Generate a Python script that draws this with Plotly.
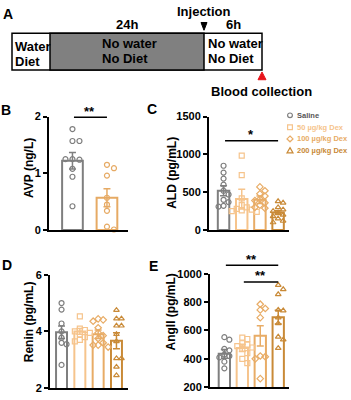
import plotly.graph_objects as go

W, H = 351, 400
FONT = "Liberation Sans, Arial, sans-serif"

# ---------------- data ----------------
groups4 = ["Saline", "50 µg/kg Dex", "100 µg/kg Dex", "200 µg/kg Dex"]
groupsB = ["Saline", "Dex"]

avp_mean = [1.22, 0.57]
avp_sem = [0.145, 0.16]
avp_points = [
    [1.78, 1.57, 1.57, 1.25, 1.24, 1.25, 1.08, 0.94, 0.42],
    [1.15, 1.09, 0.96, 0.57, 0.45, 0.34, 0.06, 0.01],
]

ald_mean = [520, 410, 400, 232]
ald_sem = [65, 130, 50, 25]
ald_points = [
    [850, 760, 680, 600, 520, 470, 400, 370, 320, 310],
    [985, 725, 420, 330, 300, 280, 270, 260, 250, 240],
    [570, 520, 480, 450, 410, 390, 360, 330, 300, 290],
    [380, 360, 300, 270, 250, 230, 200, 180, 150, 120, 100],
]

renin_mean = [3.97, 4.0, 3.9, 3.67]
renin_sem = [0.22, 0.1, 0.15, 0.28]
renin_points = [
    [5.0, 4.77, 4.28, 4.0, 3.78, 3.6, 3.55, 2.82],
    [4.53, 4.1, 4.05, 4.0, 3.95, 3.9, 3.8, 3.7, 3.65],
    [4.44, 4.41, 4.36, 4.13, 3.95, 3.85, 3.75, 3.6, 3.52, 3.52, 3.45],
    [4.75, 4.45, 4.45, 4.2, 4.2, 3.9, 3.65, 3.05, 3.05, 2.75, 2.45],
]

ang_mean = [435, 477, 562, 694]
ang_sem = [30, 25, 72, 48]
ang_points = [
    [553, 535, 470, 460, 430, 420, 410, 380, 333],
    [550, 540, 510, 500, 490, 480, 470, 440, 400, 370],
    [785, 755, 745, 690, 420, 415, 400, 260],
    [920, 890, 855, 745, 740, 690, 650, 555, 535, 475],
]

# ---------------- styles ----------------
C_SAL = "#7F7F7F"
C_50 = "#F6C48C"
C_100 = "#E8AC66"
C_200 = "#C98A37"
C_DEX = "#E6AA64"
cols4 = [C_SAL, C_50, C_100, C_200]
syms4 = ["circle", "square", "diamond", "triangle-up"]


def pxx(x):
    return x / W


def pxy(y):
    return 1 - y / H


def swarm(vals, span, ypx, step_px, ppu, d=5.0):
    placed, offs = [], []
    for v in vals:
        yy = v / span * ypx
        for k in [0, 1, -1, 2, -2, 3, -3]:
            ox = k * step_px
            if all((ox - a) ** 2 + (yy - b) ** 2 >= d * d for a, b in placed):
                break
        placed.append((ox, yy))
        offs.append(ox / ppu)
    return offs


panels = [
    dict(ax="", xdom=(49, 128), ydom=(114, 231), xr=[-0.68, 1.61], yr=[0, 2],
         ticks=[0, 1, 2], means=avp_mean, sems=avp_sem, pts=avp_points,
         cols=[C_SAL, C_DEX], syms=["circle", "circle"], bw=0.6, step=7,
         title="AVP (ng/L)", tx=29, ty=167, letter="B", lx=6, ly=107),
    dict(ax="2", xdom=(209, 289), ydom=(114, 231), xr=[-0.8, 3.6], yr=[0, 1500],
         ticks=[0, 500, 1000, 1500], means=ald_mean, sems=ald_sem, pts=ald_points,
         cols=cols4, syms=syms4, bw=0.63, step=5,
         title="ALD (pg/mL)", tx=172, ty=172, letter="C", lx=152, ly=106),
    dict(ax="3", xdom=(50, 128), ydom=(277, 394), xr=[-0.63, 3.63], yr=[2, 6],
         ticks=[2, 4, 6], means=renin_mean, sems=renin_sem, pts=renin_points,
         cols=cols4, syms=syms4, bw=0.6, step=5,
         title="Renin (pg/mL)", tx=29, ty=325, letter="D", lx=7, ly=267),
    dict(ax="4", xdom=(210, 289), ydom=(276, 393), xr=[-0.8, 3.6], yr=[200, 1000],
         ticks=[200, 400, 600, 800, 1000], means=ang_mean, sems=ang_sem, pts=ang_points,
         cols=cols4, syms=syms4, bw=0.63, step=5,
         title="AngII (pg/mL)", tx=171, ty=316, letter="E", lx=153, ly=268),
]
yranges = {p["ax"]: p["yr"] for p in panels}

fig = go.Figure()
layout = dict(
    width=W, height=H, margin=dict(l=0, r=0, t=0, b=0),
    paper_bgcolor="white", plot_bgcolor="white", barmode="overlay",
    showlegend=False, font=dict(family=FONT, color="black"),
)
annotations = []
shapes = []

for p in panels:
    xa, ya = "x" + p["ax"], "y" + p["ax"]
    xk, yk = "xaxis" + p["ax"], "yaxis" + p["ax"]
    x0, x1 = p["xdom"]
    y0, y1 = p["ydom"]
    layout[xk] = dict(domain=[pxx(x0), pxx(x1)], range=p["xr"], anchor=ya,
                      showline=True, linecolor="black", linewidth=2,
                      showgrid=False, zeroline=False, showticklabels=False, ticks="")
    layout[yk] = dict(domain=[pxy(y1), pxy(y0)], range=p["yr"], anchor=xa,
                      showline=True, linecolor="black", linewidth=2,
                      showgrid=False, zeroline=False, ticks="outside",
                      ticklen=4, tickwidth=2, tickcolor="black",
                      tickvals=p["ticks"],
                      tickfont=dict(family=FONT, size=11, color="black", weight="bold"))
    ppu = (x1 - x0) / (p["xr"][1] - p["xr"][0])
    ypx = (y1 - y0)
    span = p["yr"][1] - p["yr"][0]
    for i, (m, s, pts, c, sy) in enumerate(zip(p["means"], p["sems"], p["pts"], p["cols"], p["syms"])):
        fig.add_trace(go.Bar(x=[i], y=[m], width=p["bw"], xaxis=xa, yaxis=ya,
                             marker=dict(color="white", line=dict(color=c, width=2)),
                             error_y=dict(type="data", array=[s], color=c, thickness=1.5, width=3.5)))
        offs = swarm(pts, span, ypx, p["step"], ppu)
        fig.add_trace(go.Scatter(x=[i + o for o in offs], y=pts, mode="markers",
                                 xaxis=xa, yaxis=ya, cliponaxis=False,
                                 marker=dict(symbol=sy + "-open", size=5, color=c,
                                             line=dict(width=1.2, color=c))))
    annotations.append(dict(text=p["title"], x=pxx(p["tx"]), y=pxy(p["ty"]),
                            xref="paper", yref="paper", textangle=-90, showarrow=False,
                            xanchor="center", yanchor="middle",
                            font=dict(family=FONT, size=12, weight="bold")))
    annotations.append(dict(text=p["letter"], x=pxx(p["lx"]), y=pxy(p["ly"]),
                            xref="paper", yref="paper", showarrow=False,
                            xanchor="center", yanchor="middle",
                            font=dict(family=FONT, size=14, weight="bold")))

# significance bars (group a to group b at value yv)
sig = [
    ("", 0, 1, 1.99, "**"),
    ("2", 0, 3, 1180, "*"),
    ("4", 0, 3, 1060, "**"),
    ("4", 1, 3, 942, "**"),
]
for ax, a, b, yv, star in sig:
    r0, r1 = yranges[ax]
    frac = (yv - r0) / (r1 - r0)
    annotations.append(dict(x=b, y=frac, ax=a, ay=0, xref="x" + ax, yref="y" + ax + " domain",
                            axref="x" + ax, ayref="pixel", text="", showarrow=True,
                            arrowhead=0, arrowwidth=1.5, arrowcolor="black", standoff=0))
    annotations.append(dict(x=(a + b) / 2, y=frac, xref="x" + ax, yref="y" + ax + " domain",
                            text=star, showarrow=False, yanchor="middle", yshift=6,
                            font=dict(family=FONT, size=13, weight="bold")))

# legend (panel C)
leg_y = [112.7, 125, 137, 149]
leg_text_cols = ["#555555", C_50, C_100, C_200]
for g, yy, c, tc, sy in zip(groups4, leg_y, cols4, leg_text_cols, syms4):
    cx, r = 290, 2.4
    if sy == "circle":
        shapes.append(dict(type="circle", xref="paper", yref="paper",
                           x0=pxx(cx - r), x1=pxx(cx + r), y0=pxy(yy + r), y1=pxy(yy - r),
                           line=dict(color=c, width=1.2)))
    elif sy == "square":
        shapes.append(dict(type="rect", xref="paper", yref="paper",
                           x0=pxx(cx - r), x1=pxx(cx + r), y0=pxy(yy + r), y1=pxy(yy - r),
                           line=dict(color=c, width=1.2)))
    elif sy == "diamond":
        pts = [(cx, yy - 3), (cx + 3, yy), (cx, yy + 3), (cx - 3, yy)]
        path = "M " + " L ".join(f"{pxx(a)},{pxy(b)}" for a, b in pts) + " Z"
        shapes.append(dict(type="path", xref="paper", yref="paper", path=path,
                           line=dict(color=c, width=1.2)))
    else:
        pts = [(cx, yy - 3), (cx + 3, yy + 2.5), (cx - 3, yy + 2.5)]
        path = "M " + " L ".join(f"{pxx(a)},{pxy(b)}" for a, b in pts) + " Z"
        shapes.append(dict(type="path", xref="paper", yref="paper", path=path,
                           line=dict(color=c, width=1.2)))
    annotations.append(dict(text=g, x=pxx(295), y=pxy(yy), xref="paper", yref="paper",
                            showarrow=False, xanchor="left", yanchor="middle",
                            font=dict(family=FONT, size=7.5, color=tc, weight="bold")))

# ---------------- panel A (timeline) ----------------
shapes.append(dict(type="rect", xref="paper", yref="paper", x0=pxx(12), x1=pxx(262),
                   y0=pxy(66), y1=pxy(28), line=dict(color="black", width=1.5),
                   fillcolor="white", layer="below"))
shapes.append(dict(type="rect", xref="paper", yref="paper", x0=pxx(50), x1=pxx(204),
                   y0=pxy(66), y1=pxy(28), line=dict(color="black", width=1.5),
                   fillcolor="#808080"))
tri = [(201, 17), (207, 17), (204, 25)]
shapes.append(dict(type="path", xref="paper", yref="paper",
                   path="M " + " L ".join(f"{pxx(a)},{pxy(b)}" for a, b in tri) + " Z",
                   fillcolor="black", line=dict(color="black", width=1)))
tri = [(262, 68), (266, 76), (258, 76)]
shapes.append(dict(type="path", xref="paper", yref="paper",
                   path="M " + " L ".join(f"{pxx(a)},{pxy(b)}" for a, b in tri) + " Z",
                   fillcolor="#E8141B", line=dict(color="#E8141B", width=1)))

a_texts = [
    ("A", 8, 8, "center", 14),
    ("Water", 13, 42, "left", 13),
    ("Diet", 13, 57, "left", 13),
    ("No water", 100, 39, "left", 13),
    ("No Diet", 100, 54, "left", 13),
    ("No water", 206, 39, "left", 13),
    ("No Diet", 206, 54, "left", 13),
    ("24h", 127, 19, "center", 13),
    ("6h", 233, 19, "center", 13),
    ("Injection", 204, 6, "center", 13),
    ("Blood collection", 261, 88, "center", 13),
]
for t, x, y, anc, sz in a_texts:
    annotations.append(dict(text=t, x=pxx(x), y=pxy(y), xref="paper", yref="paper",
                            showarrow=False, xanchor=anc, yanchor="middle",
                            font=dict(family=FONT, size=sz, color="black", weight="bold")))

layout["annotations"] = annotations
layout["shapes"] = shapes
fig.update_layout(**layout)
fig.write_html("out.html", config={"displayModeBar": False},
               post_script="document.body.style.margin='0';document.body.style.overflow='hidden';")
